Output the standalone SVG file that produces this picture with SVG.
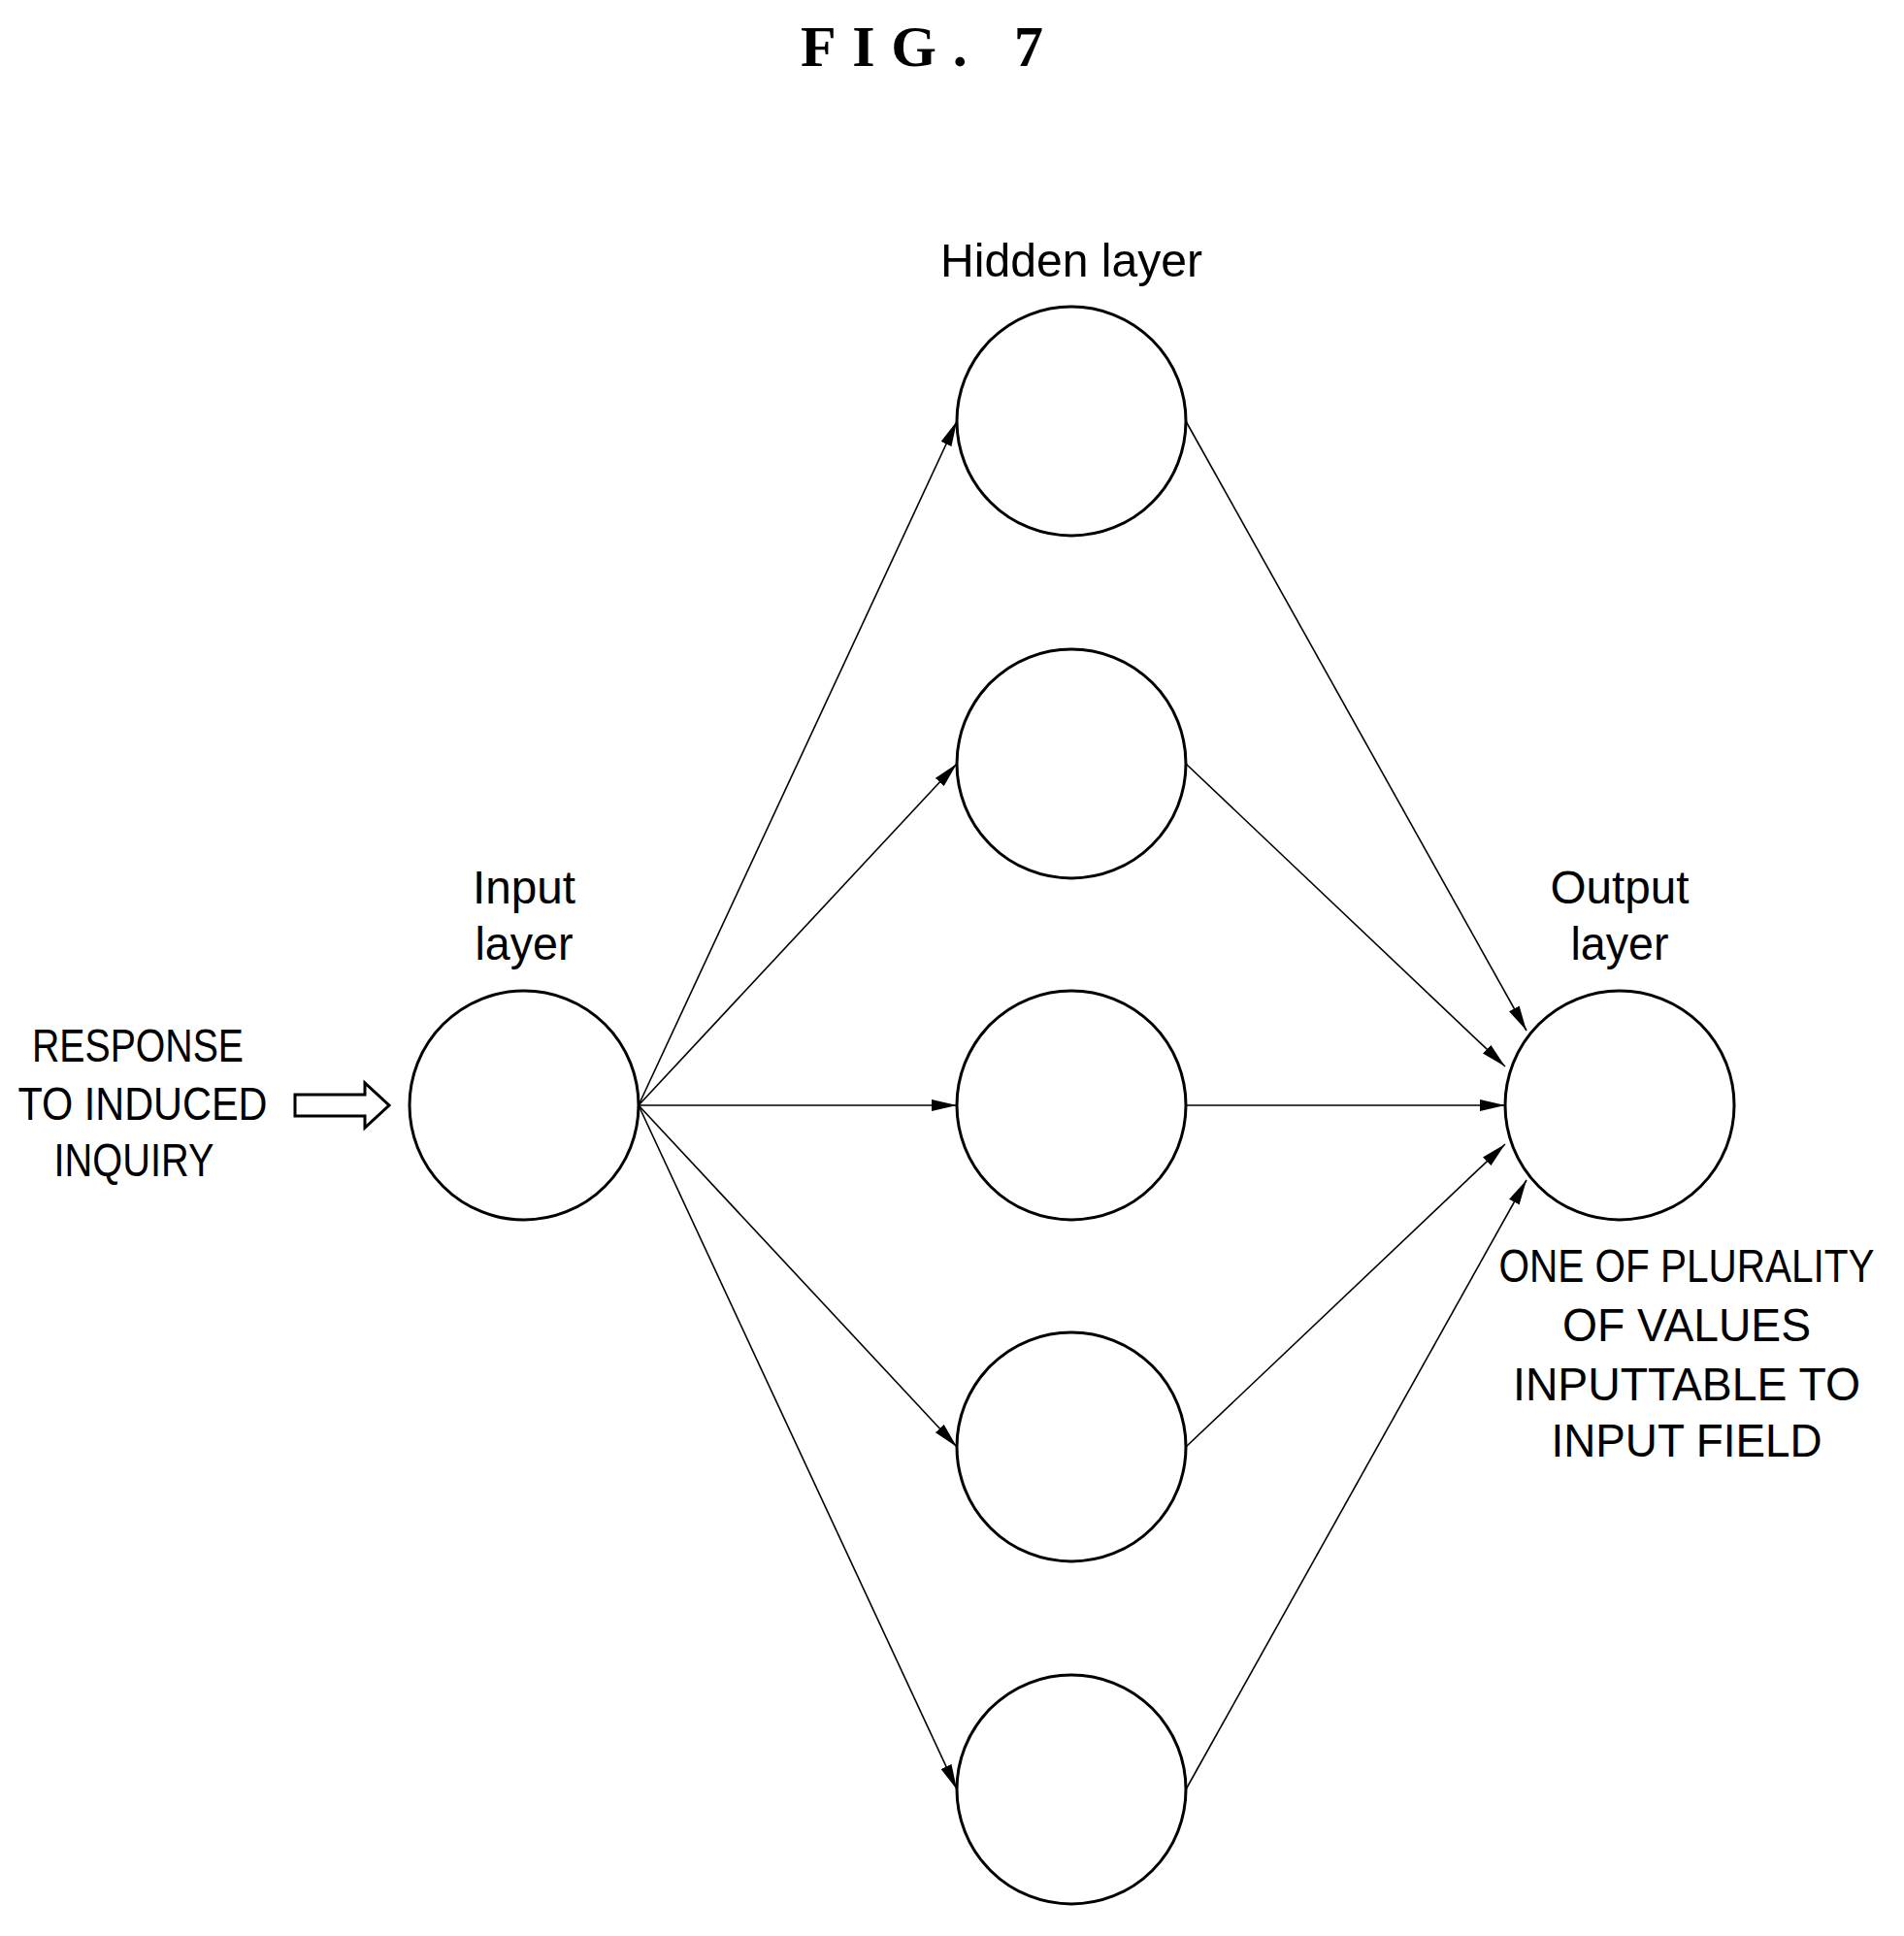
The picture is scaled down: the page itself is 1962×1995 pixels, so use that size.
<svg xmlns="http://www.w3.org/2000/svg" width="1962" height="1995" viewBox="0 0 1962 1995">
<style>
.n{fill:none;stroke:#000;stroke-width:3}
.c{stroke:#000;stroke-width:1.6;fill:none;marker-end:url(#ah)}
.t{font-family:"Liberation Sans",Arial,sans-serif;font-size:48px;fill:#000;text-anchor:middle;dominant-baseline:central}
</style>
<defs><marker id="ah" markerUnits="userSpaceOnUse" markerWidth="26" markerHeight="12" refX="26" refY="6" orient="auto"><path d="M0,0 L26,6 L0,12 z" fill="#000"/></marker></defs>
<rect width="1962" height="1995" fill="#fff"/>
<text x="950" y="48" font-family="Liberation Serif,serif" font-weight="bold" font-size="60" text-anchor="middle" dominant-baseline="central" textLength="250" lengthAdjust="spacing">FIG.  7</text>
<g id="connectors">
<path class="c" d="M658,1139 L986,434"/>
<path class="c" d="M658,1139 L986,787"/>
<path class="c" d="M658,1139 L986,1139"/>
<path class="c" d="M658,1139 L986,1491"/>
<path class="c" d="M658,1139 L986,1844"/>
<path class="c" d="M1222,434 L1573,1062"/>
<path class="c" d="M1222,787 L1551,1099"/>
<path class="c" d="M1222,1139 L1551,1139"/>
<path class="c" d="M1222,1491 L1551,1179"/>
<path class="c" d="M1222,1844 L1573,1216"/>
</g>
<g id="input-arrow"><path d="M304,1128 L376,1128 L376,1116 L401,1139 L376,1162 L376,1150 L304,1150 z" fill="#fff" stroke="#000" stroke-width="3"/></g>
<g id="input-text">
<text class="t" x="142" y="1077" textLength="218" lengthAdjust="spacingAndGlyphs">RESPONSE</text>
<text class="t" x="147" y="1137" textLength="257" lengthAdjust="spacingAndGlyphs">TO INDUCED</text>
<text class="t" x="138" y="1195" textLength="165" lengthAdjust="spacingAndGlyphs">INQUIRY</text>
</g>
<g id="input"><circle class="n" cx="540" cy="1139" r="118"/><text class="t" x="540" y="914" textLength="106" lengthAdjust="spacingAndGlyphs">Input</text><text class="t" x="540" y="972" textLength="101" lengthAdjust="spacingAndGlyphs">layer</text></g>
<g id="hidden-label"><text class="t" x="1104" y="268" textLength="270" lengthAdjust="spacingAndGlyphs">Hidden layer</text></g>
<g id="h1"><circle class="n" cx="1104" cy="434" r="118"/></g>
<g id="h2"><circle class="n" cx="1104" cy="787" r="118"/></g>
<g id="h3"><circle class="n" cx="1104" cy="1139" r="118"/></g>
<g id="h4"><circle class="n" cx="1104" cy="1491" r="118"/></g>
<g id="h5"><circle class="n" cx="1104" cy="1844" r="118"/></g>
<g id="output"><circle class="n" cx="1669" cy="1139" r="118"/><text class="t" x="1669" y="914" textLength="143" lengthAdjust="spacingAndGlyphs">Output</text><text class="t" x="1669" y="972" textLength="101" lengthAdjust="spacingAndGlyphs">layer</text></g>
<g id="output-text">
<text class="t" x="1738" y="1304" textLength="387" lengthAdjust="spacingAndGlyphs">ONE OF PLURALITY</text>
<text class="t" x="1738" y="1365" textLength="256" lengthAdjust="spacingAndGlyphs">OF VALUES</text>
<text class="t" x="1738" y="1426" textLength="358" lengthAdjust="spacingAndGlyphs">INPUTTABLE TO</text>
<text class="t" x="1738" y="1484" textLength="279" lengthAdjust="spacingAndGlyphs">INPUT FIELD</text>
</g>
</svg>
